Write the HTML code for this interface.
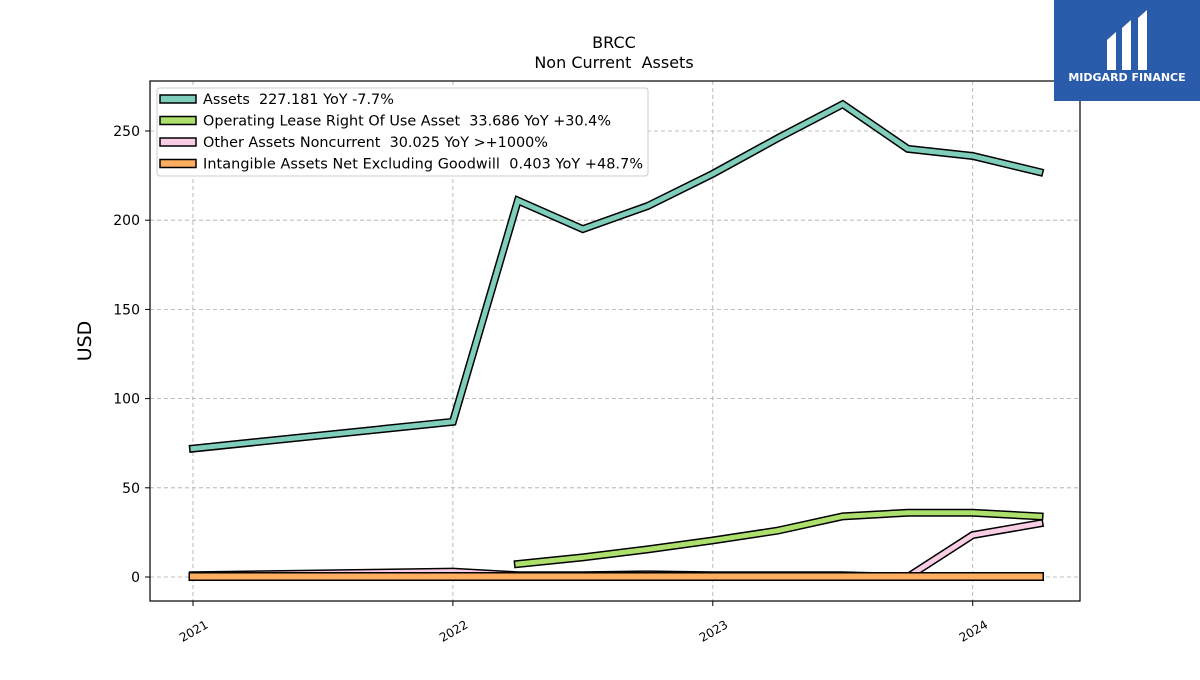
<!DOCTYPE html>
<html><head><meta charset="utf-8"><style>
body{margin:0;background:#fff;}
svg{font-family:"DejaVu Sans","Liberation Sans",sans-serif;}
text{white-space:pre;}
</style></head><body>
<svg id="c" width="1200" height="675" xmlns="http://www.w3.org/2000/svg">
<rect width="1200" height="675" fill="#fff"/>
<text x="614" y="48" font-size="16" text-anchor="middle">BRCC</text>
<text x="614" y="68" font-size="16" text-anchor="middle" xml:space="preserve">Non Current  Assets</text>
<text transform="translate(91,341) rotate(-90)" font-size="19" text-anchor="middle">USD</text>
<g id="grid"></g><g id="series"></g><g id="axes"></g>
<rect x="150" y="81" width="930" height="520" fill="none" stroke="#000" stroke-width="1.2"/>
<g id="legend"></g>
<g>
<rect x="1054" y="0" width="146" height="101" fill="#2b5bab"/>
<path d="M1107 40 L1116 32 L1116 70 L1107 70 Z M1122 28 L1131 20 L1131 70 L1122 70 Z M1138 18 L1147 10 L1147 70 L1138 70 Z" fill="#fff"/>
<text x="1127" y="81" font-size="11" font-weight="bold" fill="#fff" text-anchor="middle">MIDGARD FINANCE</text>
</g>
</svg>
<script>
const dates=[2021.0,2022.0,2022.25,2022.5,2022.75,2023.0,2023.25,2023.5,2023.75,2024.0,2024.25];
const assets=[72,87,211,195,208,226,246,265,240,236,227];
const leaseDates=[2022.25,2022.5,2022.75,2023.0,2023.25,2023.5,2023.75,2024.0,2024.25];
const lease=[7.3,11,15.5,20.5,26,34,36,36,34];
const other=[1,3,1,1,1.5,1,1,1,0,23.5,30];
const intang=[0.3,0.3,0.3,0.3,0.3,0.3,0.3,0.3,0.3,0.3,0.3];
const yTicks=[0,50,100,150,200,250];
const xTicks=[2021,2022,2023,2024];
const X=v=>v<=2024?193+(v-2021)*259.9:973+(v-2024)*266;
const Y=v=>577-v*1.784;
const NS="http://www.w3.org/2000/svg";
function mk(t,a,p){const e=document.createElementNS(NS,t);for(const k in a)e.setAttribute(k,a[k]);p.appendChild(e);return e;}
const grid=document.getElementById('grid'),axes=document.getElementById('axes'),ser=document.getElementById('series'),leg=document.getElementById('legend');
yTicks.forEach(v=>{
 const l=mk('line',{x1:150,x2:1080,y1:Y(v),y2:Y(v),stroke:'#aaa','stroke-dasharray':'4,3','stroke-width':0.8},grid);
 
 
 mk('line',{x1:145,x2:150,y1:Y(v),y2:Y(v),stroke:'#000'},axes);
 const t=mk('text',{x:140,y:Y(v)+5,'font-size':14,'text-anchor':'end'},axes);t.textContent=v;
 
 
});
xTicks.forEach(v=>{
 const l=mk('line',{x1:X(v),x2:X(v),y1:81,y2:601,stroke:'#aaa','stroke-dasharray':'4,3','stroke-width':0.8},grid);
 
 
 mk('line',{x1:X(v),x2:X(v),y1:601,y2:606,stroke:'#000'},axes);
 const t=mk('text',{transform:`translate(${X(v)+16},${627}) rotate(-30)`,'font-size':12,'text-anchor':'end'},axes);t.textContent=v;
 
 
});
function band(xs,ys,col,name,w){
 const pts=xs.map((d,i)=>X(d)+','+Y(ys[i])).join(' ');
 const g=mk('g',{},ser);
 
 
 mk('polyline',{points:pts,fill:'none',stroke:'#000','stroke-width':w+3,'stroke-linecap':'square'},g);
 mk('polyline',{points:pts,fill:'none',stroke:col,'stroke-width':w,'stroke-linecap':'square'},g);
}
band(dates,other,'#f9cde3','other-assets-line',5);
band(dates,intang,'#fdae61','intangible-assets-line',6);
band(leaseDates,lease,'#addf6c','operating-lease-line',5);
band(dates,assets,'#7fcdbb','assets-line',5);
const lb=mk('rect',{x:157,y:88,width:491,height:88,fill:'#fff',stroke:'#ccc',rx:3},leg);


const items=[['Assets  227.181 YoY -7.7%','#7fcdbb'],['Operating Lease Right Of Use Asset  33.686 YoY +30.4%','#addf6c'],['Other Assets Noncurrent  30.025 YoY >+1000%','#f9cde3'],['Intangible Assets Net Excluding Goodwill  0.403 YoY +48.7%','#fdae61']];
items.forEach((it,i)=>{
 const y=99+i*21.5;
 const g=mk('g',{},leg);
 
 
 mk('rect',{x:160,y:y-4,width:36,height:8,fill:it[1],stroke:'#000','stroke-width':1.5},g);
 const t=mk('text',{x:203,y:y+5,'font-size':13,'textLength':(i==3?440:undefined),'xml:space':'preserve'},g);
 if(i!=3)t.removeAttribute('textLength');
 t.setAttribute('style','font-size:14.4px');
 t.textContent=it[0];
});
</script>
</body></html>
